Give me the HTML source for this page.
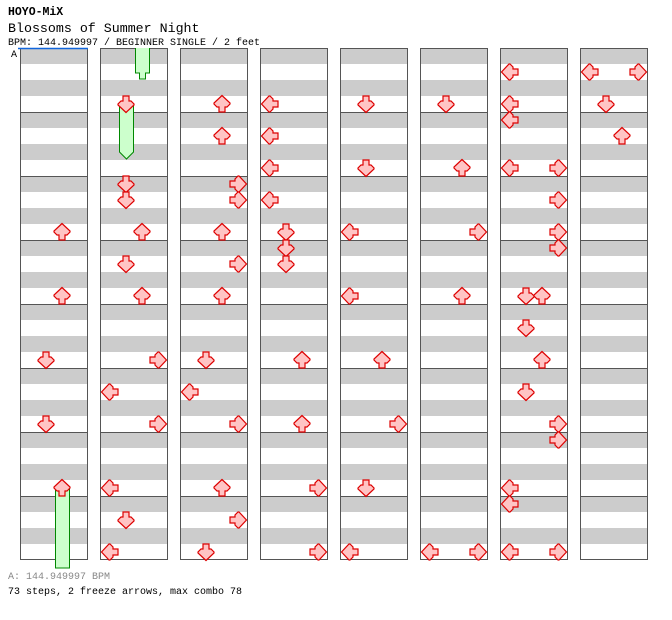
<!DOCTYPE html>
<html><head><meta charset="utf-8"><style>
body{margin:0;background:#fff;width:672px;height:620px;overflow:hidden}
svg{display:block}
text{font-family:"Liberation Mono",monospace}
</style></head><body>
<svg id="s" width="672" height="620" xmlns="http://www.w3.org/2000/svg">
<defs>
<polygon id="ar" points="-3,-8 3,-8 3,-3 5,-3 8,0 8,1 0,8.5 -8,1 -8,0 -5,-3 -3,-3" fill="#ffc4c4" stroke="#dd0000" stroke-width="1.2"/>
</defs>
<text x="8" y="15" font-size="11.5" font-weight="bold">HOYO-MiX</text>
<text x="8" y="32" font-size="13.3">Blossoms of Summer Night</text>
<text x="8" y="45" font-size="10">BPM: 144.949997 / BEGINNER SINGLE / 2 feet</text>
<text x="8" y="579" font-size="10" fill="#888">A: 144.949997 BPM</text>
<text x="8" y="594" font-size="10">73 steps, 2 freeze arrows, max combo 78</text>
<text x="11" y="57" font-size="10">A</text>
<g id="g"></g>
</svg>
<script>
var g=document.getElementById('g'),h='';
var cols=[20,100,180,260,340,420,500,580];
cols.forEach(function(x){
 for(var y=48;y<560;y+=32){h+='<rect x="'+x+'" y="'+y+'" width="68" height="16" fill="#cccccc"/>';}
 for(var y=112;y<560;y+=64){h+='<line x1="'+x+'" y1="'+(y+.5)+'" x2="'+(x+68)+'" y2="'+(y+.5)+'" stroke="#555" shape-rendering="crispEdges"/>';}
 h+='<rect x="'+(x+.5)+'" y="48.5" width="67" height="511" fill="none" stroke="#555" shape-rendering="crispEdges"/>';
});
h+='<line x1="18" y1="48.5" x2="88" y2="48.5" stroke="#1166dd" stroke-width="1.5"/>';
h+='<path d="M55.5,488 V568 H69.5 V488" fill="#ccffcc" stroke="#008800"/>';
h+='<path d="M135.5,48 V73 L139.5,73 L139.5,79 L145.5,79 L145.5,73 L149.5,73 V48" fill="#ccffcc" stroke="#008800"/>';
h+='<path d="M119.5,104 V152 L126.5,159 L133.5,152 V104" fill="#ccffcc" stroke="#008800"/>';
var off={L:10,D:26,U:42,R:58},rot={D:0,L:90,U:180,R:-90};
var data=[
"U232 U296 D360 D424 U488",
"D104 D184 D200 U232 D264 U296 R360 L392 R424 L488 D520 L552",
"U104 U136 R184 R200 U232 R264 U296 D360 L392 R424 U488 R520 D552",
"L104 L136 L168 L200 D232 D248 D264 U360 U424 R488 R552",
"D104 D168 L232 L296 U360 R424 D488 L552",
"D104 U168 R232 U296 L552 R552",
"L72 L104 L120 L168 R168 R200 R232 R248 D296 U296 D328 U360 D392 R424 R440 L488 L504 L552 R552",
"L72 R72 D104 U136"];
data.forEach(function(s,i){s.split(' ').forEach(function(t){
 var d=t[0],y=+t.slice(1),x=cols[i]+off[d];
 h+='<use href="#ar" transform="translate('+x+','+y+') rotate('+rot[d]+')"/>';
});});
g.innerHTML=h;
</script>
</body></html>
